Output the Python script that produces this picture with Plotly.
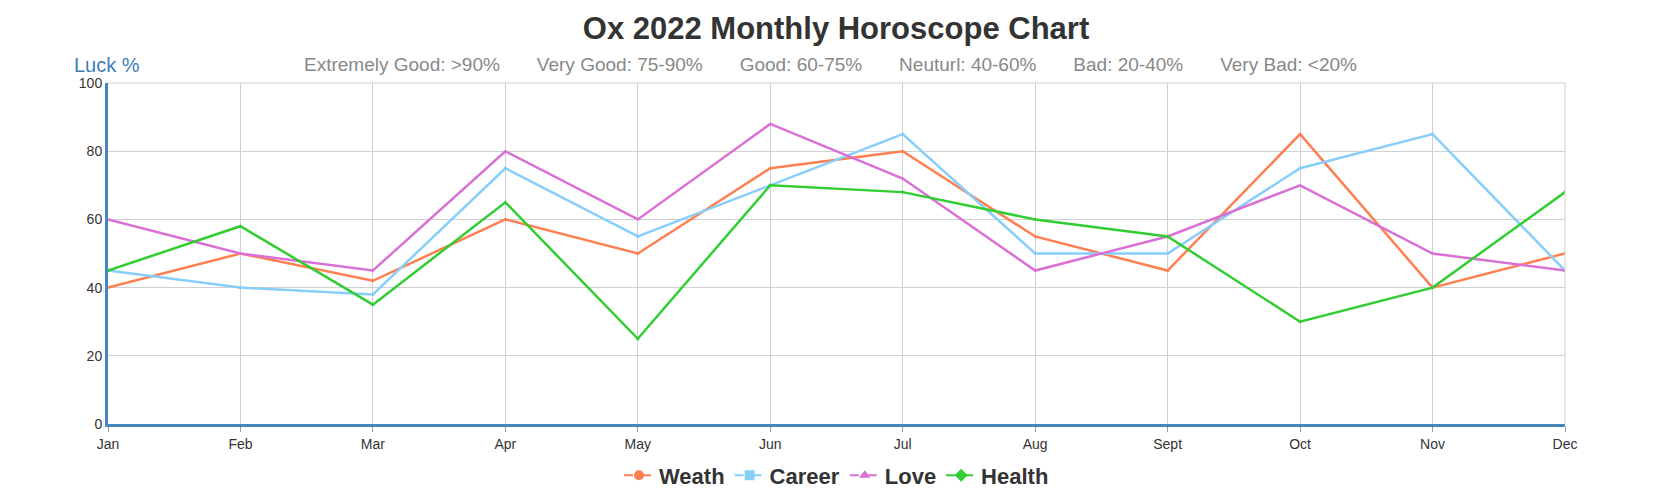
import plotly.graph_objects as go

months = ["Jan", "Feb", "Mar", "Apr", "May", "Jun",
          "Jul", "Aug", "Sept", "Oct", "Nov", "Dec"]

weath = [40, 50, 42, 60, 50, 75, 80, 55, 45, 85, 40, 50]
career = [45, 40, 38, 75, 55, 70, 85, 50, 50, 75, 85, 45]
love = [60, 50, 45, 80, 60, 88, 72, 45, 55, 70, 50, 45]
health = [45, 58, 35, 65, 25, 70, 68, 60, 55, 30, 40, 68]

series = [
    ("Weath", weath, "#FF7F50", "circle"),
    ("Career", career, "#87CEFA", "square"),
    ("Love", love, "#DA70D6", "triangle-up"),
    ("Health", health, "#32CD32", "diamond"),
]

luck_levels = ["Extremely Good: >90%", "Very Good: 75-90%", "Good: 60-75%",
               "Neuturl: 40-60%", "Bad: 20-40%", "Very Bad: <20%"]

FONT = "Arial, Liberation Sans, sans-serif"
AXIS_BLUE = "#4A86BE"

fig = go.Figure()

for name, values, color, symbol in series:
    # the line itself, with tiny point markers
    fig.add_trace(go.Scatter(
        x=months, y=values, name=name, legendgroup=name, showlegend=False,
        mode="lines+markers",
        line=dict(color=color, width=2.5),
        marker=dict(color=color, size=3, symbol=symbol),
    ))
    # legend entry with a bigger marker
    fig.add_trace(go.Scatter(
        x=[None], y=[None], name=name, legendgroup=name,
        mode="lines+markers",
        line=dict(color=color, width=2, dash="dash"),
        marker=dict(color=color, size=10, symbol=symbol),
    ))

fig.update_layout(
    width=1656, height=500,
    margin=dict(l=100, r=99, t=75, b=73),
    paper_bgcolor="white", plot_bgcolor="white",
    font=dict(family=FONT, color="#333"),
    title=dict(text="<b>Ox 2022 Monthly Horoscope Chart</b>",
               x=0.5, xanchor="center", y=0.959, yanchor="middle",
               font=dict(size=31, color="#333", family=FONT)),
    legend=dict(orientation="h", x=0.5, xanchor="center",
                y=-0.151, yanchor="middle",
                font=dict(size=22, color="#333", family=FONT, weight="bold"),
                itemwidth=30, tracegroupgap=0),
    showlegend=True,
)

fig.update_xaxes(
    type="category", range=[0, 11],
    showgrid=True, gridcolor="#D0D0D0", gridwidth=1,
    showline=True, linecolor=AXIS_BLUE, linewidth=3,
    ticks="outside", ticklen=5, tickcolor="#999",
    tickfont=dict(size=14, color="#333"),
    mirror=False, zeroline=False,
)
fig.update_yaxes(
    range=[0, 100], tickvals=[0, 20, 40, 60, 80, 100],
    showgrid=True, gridcolor="#D0D0D0", gridwidth=1,
    showline=True, linecolor=AXIS_BLUE, linewidth=3,
    ticks="", tickfont=dict(size=14, color="#333"),
    zeroline=False,
)

# plot frame on the top and right
fig.add_shape(type="line", xref="paper", yref="paper", x0=0, x1=1, y0=1, y1=1,
              line=dict(color="#D0D0D0", width=1))
fig.add_shape(type="line", xref="paper", yref="paper", x0=1, x1=1, y0=0, y1=1,
              line=dict(color="#D0D0D0", width=1))

fig.add_annotation(text="Luck %", xref="paper", yref="paper",
                   x=-0.0245, xanchor="left", y=1.054, yanchor="middle",
                   showarrow=False, font=dict(size=20, color="#3D7DBA", family=FONT))
fig.add_annotation(text=("\u00a0" * 7).join(luck_levels), xref="paper", yref="paper",
                   x=0.4959, xanchor="center", y=1.054, yanchor="middle",
                   showarrow=False, font=dict(size=19, color="#888", family=FONT))

fig.write_html("out.html")
